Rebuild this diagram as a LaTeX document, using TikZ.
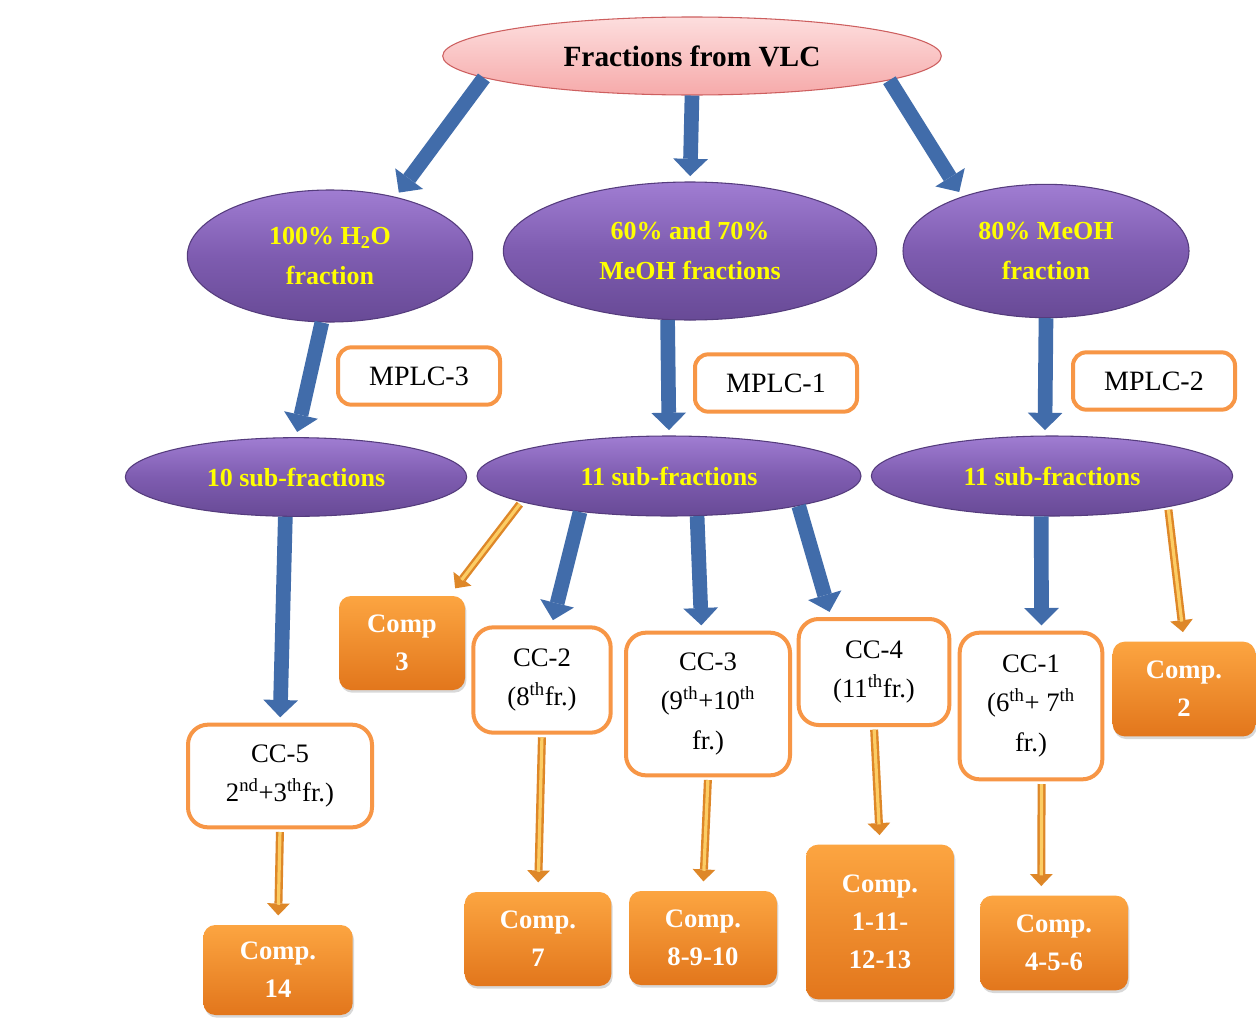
\documentclass[tikz,border=0pt]{standalone}
\usepackage{fontspec}
\setmainfont{Liberation Serif}
\usetikzlibrary{arrows.meta,shapes.geometric,shadows,calc}
\definecolor{arrblue}{RGB}{65,108,170}
\definecolor{ccorange}{RGB}{247,150,70}
\definecolor{comptop}{RGB}{252,165,65}
\definecolor{compbot}{RGB}{226,118,28}
\definecolor{purtop}{RGB}{160,125,210}
\definecolor{purmid}{RGB}{126,92,176}
\definecolor{purbot}{RGB}{104,74,150}
\definecolor{purline}{RGB}{85,60,125}
\definecolor{pinktop}{RGB}{253,222,222}
\definecolor{pinkbot}{RGB}{246,170,170}
\definecolor{pinkline}{RGB}{205,95,95}
\definecolor{oarrout}{RGB}{222,135,40}
\definecolor{oarrin}{RGB}{252,205,100}
\definecolor{ytext}{RGB}{255,255,0}
\begin{document}
\begin{tikzpicture}[x=0.75pt,y=-0.75pt,
  vlcnode/.style={ellipse, draw=pinkline, line width=0.8pt, top color=pinktop, bottom color=pinkbot, inner sep=0pt, font=\bfseries\fontsize{22}{26}\selectfont},
  purnode/.style={ellipse, draw=purline, line width=0.8pt, top color=purtop, bottom color=purbot, middle color=purmid, inner sep=0pt, text=ytext, align=center, font=\bfseries\fontsize{19.5}{30}\selectfont},
  mplcbox/.style={rectangle, rounded corners=10pt, draw=ccorange, line width=3pt, fill=white, minimum width=121.5pt, minimum height=43pt, font=\fontsize{21}{28}\selectfont},
  ccbox/.style={rectangle, rounded corners=15pt, draw=ccorange, line width=3pt, fill=white, align=center, inner sep=2pt, font=\fontsize{20}{29.5}\selectfont},
  compbox/.style={rectangle, rounded corners=9pt, top color=comptop, bottom color=compbot, text=white, align=center, inner sep=2pt, font=\bfseries\fontsize{20}{28.5}\selectfont, drop shadow={shadow xshift=1pt, shadow yshift=-2pt, opacity=0.3}},
  barrow/.style={draw=arrblue, line width=11pt, -{Triangle[width=26pt,length=13pt,line width=0pt]}, shorten >=4pt},
  oarrow/.style={draw=oarrout, line width=6pt, -{Triangle[width=17pt,length=9pt,line width=0pt]}, shorten >=7pt, shorten <=2pt,
    postaction={draw=oarrin, line width=2.4pt, -, shorten >=15pt, shorten <=2pt}}
]
\useasboundingbox (0,0) rectangle (1256,1017);
\fill[white] (0,0) rectangle (1256,1017);

% top
\node[vlcnode, minimum width=374pt, minimum height=58.5pt] (vlc) at (692,56) {Fractions from VLC};

% fractions
\node[purnode, minimum width=214pt, minimum height=99pt] (h2o) at (330,256) {100\% H\textsubscript{2}O\\fraction};
\node[purnode, minimum width=280pt, minimum height=103.5pt] (mid) at (690,251) {60\% and 70\%\\MeOH fractions};
\node[purnode, minimum width=214.5pt, minimum height=100pt] (r80) at (1046,251) {80\% MeOH\\fraction};

% MPLC labels
\node[mplcbox] (mplc3) at (419,376) {MPLC-3};
\node[mplcbox] (mplc1) at (776,383) {MPLC-1};
\node[mplcbox] (mplc2) at (1154,381) {MPLC-2};

% sub-fractions
\node[purnode, minimum width=256pt, minimum height=59pt] (sub1) at (296,477) {10 sub-fractions};
\node[purnode, minimum width=288pt, minimum height=60pt] (msub) at (669,476) {11 sub-fractions};
\node[purnode, minimum width=271pt, minimum height=60pt] (rsub) at (1052,476) {11 sub-fractions};

% CC boxes
\node[ccbox, minimum width=103pt, minimum height=79pt] (cc2) at (542,680) {CC-2\\(8\textsuperscript{th}fr.)};
\node[ccbox, minimum width=123pt, minimum height=107pt] (cc3) at (708,704) {CC-3\\(9\textsuperscript{th}+10\textsuperscript{th}\\fr.)};
\node[ccbox, minimum width=113pt, minimum height=79.5pt] (cc4) at (874,672) {CC-4\\(11\textsuperscript{th}fr.)};
\node[ccbox, minimum width=107pt, minimum height=110pt] (cc1) at (1031,706) {CC-1\\(6\textsuperscript{th}+ 7\textsuperscript{th}\\fr.)};
\node[ccbox, minimum width=138pt, minimum height=77pt] (cc5) at (280,776) {CC-5\\2\textsuperscript{nd}+3\textsuperscript{th}fr.)};

% compound boxes
\node[compbox, minimum width=94.5pt, minimum height=70.5pt] (comp3) at (402,643) {Comp\\3};
\node[compbox, minimum width=107pt, minimum height=71pt] (comp2) at (1184,689) {Comp.\\2};
\node[compbox, minimum width=112pt, minimum height=67.5pt] (comp14) at (278,970) {Comp.\\14};
\node[compbox, minimum width=110pt, minimum height=70.5pt] (comp7) at (538,939) {Comp.\\7};
\node[compbox, minimum width=111pt, minimum height=70.5pt] (comp8) at (703,938) {Comp.\\8-9-10};
\node[compbox, minimum width=111pt, minimum height=116pt] (comp1) at (880,922) {Comp.\\1-11-\\12-13};
\node[compbox, minimum width=111pt, minimum height=71pt] (comp456) at (1054,943) {Comp.\\4-5-6};

% blue arrows
\draw[barrow] (vlc.186) -- (h2o.42);
\draw[barrow] (vlc.south) -- (mid.north);
\draw[barrow] (vlc.-7) -- (r80.147);
\draw[barrow] (h2o.263) -- (sub1.north);
\draw[barrow] (mid.252) -- (msub.north);
\draw[barrow] (r80.south) -- (rsub.100);
\draw[barrow] (sub1.255) -- (cc5.north);
\draw[barrow] (msub.202) -- (cc2.80);
\draw[barrow] (msub.305) -- (cc3.95);
\draw[barrow] (msub.347) -- (cc4.128);
\draw[barrow] (rsub.255) -- (cc1.82);

% orange arrows
\draw[oarrow] (msub.190) -- ($(comp3.north)!0.75!(comp3.north east)$);
\draw[oarrow] (rsub.345) -- (comp2.north);
\draw[oarrow] (cc5.south) -- (comp14.north);
\draw[oarrow] (cc2.south) -- (comp7.north);
\draw[oarrow] (cc3.south) -- (comp8.north);
\draw[oarrow] (cc4.south) -- (comp1.north);
\draw[oarrow] (cc1.-82) -- (comp456.105);
\end{tikzpicture}
\end{document}
